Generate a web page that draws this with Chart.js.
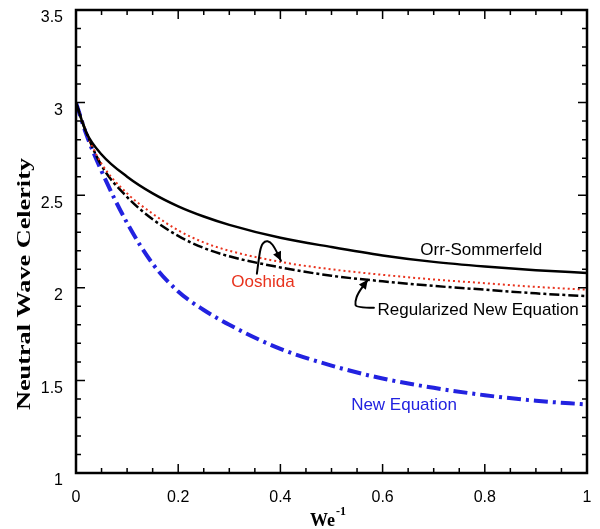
<!DOCTYPE html>
<html>
<head>
<meta charset="utf-8">
<script src="https://cdn.jsdelivr.net/npm/chart.js@4.4.1/dist/chart.umd.min.js"></script>
<style>
  html, body { margin: 0; background: #fff; }
</style>
</head>
<body>
<canvas id="celerityChart" width="600" height="529"></canvas>
<script>
// values (We^-1 on x, neutral wave celerity on y)
const weInverse     = [0, 0.02, 0.05, 0.1, 0.15, 0.2, 0.25, 0.3, 0.4, 0.5, 0.6, 0.7, 0.8, 0.9, 1.0];
const orrSommerfeld = [3.0, 2.84, 2.72, 2.60, 2.51, 2.44, 2.385, 2.34, 2.27, 2.22, 2.175, 2.14, 2.115, 2.095, 2.08];
const ooshida       = [3.0, 2.84, 2.67, 2.51, 2.40, 2.31, 2.245, 2.20, 2.14, 2.10, 2.07, 2.045, 2.025, 2.005, 1.99];
const regularized   = [3.0, 2.84, 2.66, 2.49, 2.37, 2.28, 2.215, 2.17, 2.11, 2.065, 2.035, 2.01, 1.99, 1.97, 1.955];
const newEquation   = [3.0, 2.83, 2.63, 2.35, 2.13, 1.98, 1.88, 1.80, 1.67, 1.58, 1.51, 1.46, 1.42, 1.39, 1.37];

const xTickLabels = ["0", "0.2", "0.4", "0.6", "0.8", "1"];
const yTickLabels = ["1", "1.5", "2", "2.5", "3", "3.5"];

const RED = "#e8331e";
const BLUE = "#2222e0";

// text labels and arrows placed in data units
const curveLabels = [
  { text: "Orr-Sommerfeld", x: 0.793, y: 2.205, color: "#000" },
  { text: "Ooshida", x: 0.366, y: 2.027, color: RED },
  { text: "Regularized New Equation", x: 0.787, y: 1.881, color: "#000" },
  { text: "New Equation", x: 0.642, y: 1.368, color: BLUE },
];
const arrows = [
  [[0.354, 2.076], [0.358, 2.162], [0.362, 2.227], [0.370, 2.254], [0.380, 2.249], [0.389, 2.216], [0.401, 2.146]],
  [[0.583, 1.892], [0.548, 1.892], [0.546, 1.924], [0.552, 1.973], [0.571, 2.043]],
];

const toPoints = (ys) => weInverse.map((x, i) => ({ x: x, y: ys[i] }));

// frame, inward ticks, tick labels, titles and annotations
const frameAndText = {
  id: "frameAndText",
  afterDatasetsDraw(chart) {
    const { ctx, chartArea: a, scales: { x, y } } = chart;
    ctx.save();
    ctx.strokeStyle = "#000";
    ctx.fillStyle = "#000";

    // ticks on all four sides
    ctx.lineWidth = 1.5;
    ctx.beginPath();
    for (let i = 0; i <= 20; i++) {
      const px = x.getPixelForValue(i * 0.05);
      const len = i % 4 === 0 ? 9 : 5;
      ctx.moveTo(px, a.bottom); ctx.lineTo(px, a.bottom - len);
      ctx.moveTo(px, a.top); ctx.lineTo(px, a.top + len);
    }
    for (let i = 0; i <= 25; i++) {
      const py = y.getPixelForValue(1 + i * 0.1);
      const len = i % 5 === 0 ? 9 : 5;
      ctx.moveTo(a.left, py); ctx.lineTo(a.left + len, py);
      ctx.moveTo(a.right, py); ctx.lineTo(a.right - len, py);
    }
    ctx.stroke();

    // frame
    ctx.lineWidth = 2.5;
    ctx.strokeRect(a.left, a.top, a.right - a.left, a.bottom - a.top);

    // tick labels
    ctx.font = "16px 'Liberation Sans', Arial, sans-serif";
    ctx.textBaseline = "middle";
    ctx.textAlign = "right";
    yTickLabels.forEach((t) => {
      ctx.fillText(t, a.left - 13, y.getPixelForValue(parseFloat(t)) + 8);
    });
    ctx.textAlign = "center";
    xTickLabels.forEach((t) => {
      ctx.fillText(t, x.getPixelForValue(parseFloat(t)), a.bottom + 25);
    });

    // x title: We^-1
    ctx.textBaseline = "alphabetic";
    ctx.textAlign = "left";
    ctx.font = "bold 18px 'Liberation Serif', 'Times New Roman', serif";
    const weW = ctx.measureText("We").width;
    ctx.font = "bold 12px 'Liberation Serif', 'Times New Roman', serif";
    const supW = ctx.measureText("-1").width;
    const startX = (a.left + a.right) / 2 - 4 - (weW + supW) / 2;
    ctx.font = "bold 18px 'Liberation Serif', 'Times New Roman', serif";
    ctx.fillText("We", startX, 526);
    ctx.font = "bold 12px 'Liberation Serif', 'Times New Roman', serif";
    ctx.fillText("-1", startX + weW + 1, 515);

    // y title, stretched to the length it has in the figure
    ctx.font = "bold 19px 'Liberation Serif', 'Times New Roman', serif";
    const yTitle = "Neutral Wave Celerity";
    const titleW = ctx.measureText(yTitle).width;
    ctx.save();
    ctx.translate(25, 284);
    ctx.rotate(-Math.PI / 2);
    ctx.scale(252 / titleW, 1);
    ctx.textAlign = "center";
    ctx.textBaseline = "middle";
    ctx.fillText(yTitle, 0, 0);
    ctx.restore();

    // curve labels
    ctx.font = "17px 'Liberation Sans', Arial, sans-serif";
    ctx.textAlign = "center";
    ctx.textBaseline = "middle";
    curveLabels.forEach((l) => {
      ctx.fillStyle = l.color;
      ctx.fillText(l.text, x.getPixelForValue(l.x), y.getPixelForValue(l.y));
    });

    // curved arrows
    ctx.fillStyle = "#000";
    ctx.lineWidth = 2;
    ctx.lineJoin = "round";
    ctx.lineCap = "round";
    arrows.forEach((pts) => {
      const p = pts.map(([vx, vy]) => [x.getPixelForValue(vx), y.getPixelForValue(vy)]);
      ctx.beginPath();
      ctx.moveTo(p[0][0], p[0][1]);
      for (let i = 1; i < p.length - 1; i++) {
        const mx = (p[i][0] + p[i + 1][0]) / 2;
        const my = (p[i][1] + p[i + 1][1]) / 2;
        ctx.quadraticCurveTo(p[i][0], p[i][1], mx, my);
      }
      const tip = p[p.length - 1];
      const prev = p[p.length - 2];
      ctx.lineTo(tip[0], tip[1]);
      ctx.stroke();
      const ang = Math.atan2(tip[1] - prev[1], tip[0] - prev[0]);
      ctx.beginPath();
      ctx.moveTo(tip[0], tip[1]);
      ctx.lineTo(tip[0] - 10 * Math.cos(ang - 0.45), tip[1] - 10 * Math.sin(ang - 0.45));
      ctx.lineTo(tip[0] - 10 * Math.cos(ang + 0.45), tip[1] - 10 * Math.sin(ang + 0.45));
      ctx.closePath();
      ctx.fill();
    });

    ctx.restore();
  },
};

const ctx = document.getElementById("celerityChart").getContext("2d");
new Chart(ctx, {
  type: "line",
  data: {
    datasets: [
      {
        label: "Orr-Sommerfeld",
        data: toPoints(orrSommerfeld),
        borderColor: "#000",
        borderWidth: 2.5,
      },
      {
        label: "Ooshida",
        data: toPoints(ooshida),
        borderColor: RED,
        borderWidth: 2,
        borderDash: [2, 3],
      },
      {
        label: "Regularized New Equation",
        data: toPoints(regularized),
        borderColor: "#000",
        borderWidth: 2.5,
        borderDash: [10, 3, 3, 3],
      },
      {
        label: "New Equation",
        data: toPoints(newEquation),
        borderColor: BLUE,
        borderWidth: 4,
        borderDash: [14, 5, 3, 5],
      },
    ],
  },
  options: {
    responsive: false,
    animation: false,
    layout: { padding: { left: 76, right: 13, top: 10, bottom: 56 } },
    elements: {
      point: { radius: 0 },
      line: { cubicInterpolationMode: "monotone", fill: false },
    },
    plugins: {
      legend: { display: false },
      tooltip: { enabled: false },
    },
    scales: {
      x: { type: "linear", min: 0, max: 1, display: false },
      y: { type: "linear", min: 1, max: 3.5, display: false },
    },
  },
  plugins: [frameAndText],
});
</script>
</body>
</html>
